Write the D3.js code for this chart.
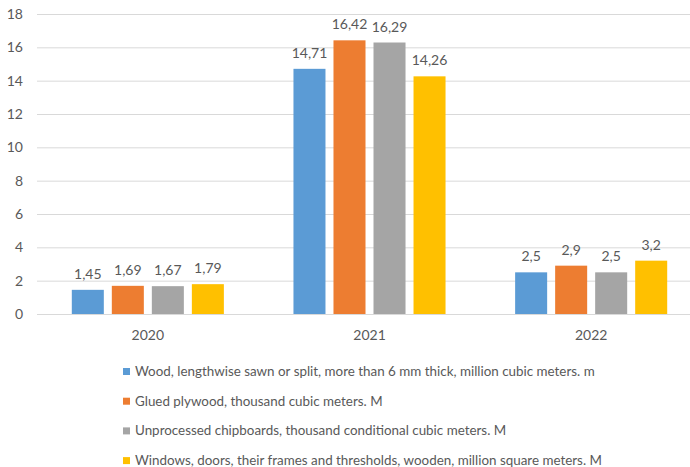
<!DOCTYPE html>
<html>
<head>
<meta charset="utf-8">
<script src="https://cdn.jsdelivr.net/npm/d3@7"></script>
<style>
  body { margin: 0; background: #fff; }
  svg text { font-family: Lato, "Open Sans", sans-serif; fill: #595959; }
</style>
</head>
<body>
<svg id="chart" width="690" height="467"></svg>
<script>
// Years on the category axis
const years = ["2020", "2021", "2022"];

// Series names shown in the legend
const seriesNames = [
  "Wood, lengthwise sawn or split, more than 6 mm thick, million cubic meters. m",
  "Glued plywood, thousand cubic meters. M",
  "Unprocessed chipboards, thousand conditional cubic meters. M",
  "Windows, doors, their frames and thresholds, wooden, million square meters. M"
];

// Values per series, one per year
const woodSawn = [1.45, 14.71, 2.5];
const gluedPlywood = [1.69, 16.42, 2.9];
const chipboards = [1.67, 16.29, 2.5];
const windowsDoors = [1.79, 14.26, 3.2];

// Value-axis ticks
const yTicks = [0, 2, 4, 6, 8, 10, 12, 14, 16, 18];

const seriesValues = [woodSawn, gluedPlywood, chipboards, windowsDoors];
const colors = ["#5B9BD5", "#ED7D31", "#A5A5A5", "#FFC000"];

const svg = d3.select("#chart");
const plot = { left: 37, right: 702, top: 14, bottom: 314 };

const x0 = d3.scaleBand().domain(years).range([plot.left, plot.right])
  .paddingInner(0.314).paddingOuter(0.157);
const x1 = d3.scaleBand().domain(d3.range(seriesNames.length)).range([0, x0.bandwidth()])
  .paddingInner(0.2).paddingOuter(0);
const y = d3.scaleLinear().domain([0, 18]).range([plot.bottom, plot.top]);

// Gridlines and value labels on the left
const yAxis = d3.axisLeft(y).tickValues(yTicks).tickSize(-(plot.right - plot.left)).tickPadding(14);
const gy = svg.append("g").attr("transform", `translate(${plot.left},0)`).call(yAxis);
gy.select(".domain").remove();
gy.selectAll(".tick line").attr("stroke", "#d9d9d9").attr("stroke-width", 1);
gy.selectAll(".tick text").attr("font-size", 14).style("font-family", "Lato, sans-serif").attr("fill", "#595959");

// Category labels below the baseline
const xAxis = d3.axisBottom(x0).tickSize(0).tickPadding(16);
const gx = svg.append("g").attr("transform", `translate(0,${plot.bottom})`).call(xAxis);
gx.select(".domain").attr("stroke", "#d9d9d9");
gx.selectAll(".tick text").attr("font-size", 14).style("font-family", "Lato, sans-serif").attr("fill", "#595959");

// Bars with their value labels
const fmt = v => String(v).replace(".", ",");
const groups = svg.append("g").selectAll("g").data(years).join("g")
  .attr("transform", d => `translate(${x0(d)},0)`);

groups.selectAll("rect")
  .data((d, i) => seriesValues.map((vals, s) => ({ s, v: vals[i] })))
  .join("rect")
  .attr("x", d => x1(d.s))
  .attr("width", x1.bandwidth())
  .attr("y", d => y(d.v))
  .attr("height", d => y(0) - y(d.v))
  .attr("fill", d => colors[d.s]);

groups.selectAll("text.val")
  .data((d, i) => seriesValues.map((vals, s) => ({ s, v: vals[i] })))
  .join("text")
  .attr("class", "val")
  .attr("x", d => x1(d.s) + x1.bandwidth() / 2)
  .attr("y", d => y(d.v) - 11)
  .attr("text-anchor", "middle")
  .attr("font-size", 14)
  .text(d => fmt(d.v));

// Legend, one entry per row
const legend = svg.append("g").attr("transform", "translate(123,0)");
const rows = legend.selectAll("g").data(seriesNames).join("g")
  .attr("transform", (d, i) => `translate(0,${376 + i * 29.7})`);
rows.append("rect").attr("x", 0).attr("y", -8).attr("width", 7).attr("height", 7)
  .attr("fill", (d, i) => colors[i]);
rows.append("text").attr("x", 12).attr("y", 0).attr("font-size", 13.4).text(d => d);
</script>
</body>
</html>
